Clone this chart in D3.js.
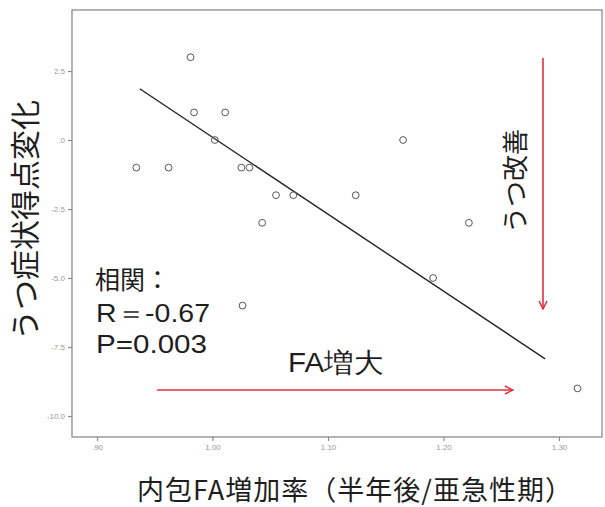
<!DOCTYPE html>
<html>
<head>
<meta charset="utf-8">
<script src="https://cdn.jsdelivr.net/npm/d3@7"></script>
<style>
  html, body { margin: 0; padding: 0; background: #fff; }
  svg { display: block; }
</style>
</head>
<body>
<svg id="chart" width="605" height="507"></svg>
<script>
// FA increase ratio (6 months / subacute) vs. change in depression score
const faRatio = [0.981, 0.984, 1.011, 1.002, 0.934, 0.962, 1.025, 1.032, 1.055, 1.070,
                 1.124, 1.043, 1.165, 1.191, 1.222, 1.026, 1.316];
const scoreChange = [3, 1, 1, 0, -1, -1, -1, -1, -2, -2,
                     -2, -3, 0, -5, -3, -6, -9];

// fitted regression line (intercept, slope) and its drawn x-span
const fitCoef = [27.98, -27.88];
const fitSpan = [0.937, 1.288];

const xTicks = [0.90, 1.00, 1.10, 1.20, 1.30];
const xTickLabels = [".90", "1.00", "1.10", "1.20", "1.30"];
const yTicks = [2.5, 0, -2.5, -5.0, -7.5, -10.0];
const yTickLabels = ["2.5", ".0", "-2.5", "-5.0", "-7.5", "-10.0"];

const statLines = ["R＝-0.67", "P=0.003"];

const svg = d3.select("#chart");
const frame = { left: 72, right: 602, top: 10, bottom: 437 };

const x = d3.scaleLinear().domain([0.90, 1.30]).range([97, 559]);
const y = d3.scaleLinear().domain([2.5, -10.0]).range([71, 416]);

const grey = "#8a8a8a";
const red = "#e0303c";
const ink = "#1e1e1e";

// plot frame
svg.append("rect")
  .attr("x", frame.left).attr("y", frame.top)
  .attr("width", frame.right - frame.left).attr("height", frame.bottom - frame.top)
  .attr("fill", "none").attr("stroke", grey).attr("stroke-width", 1.3);

// axes
const xAxis = d3.axisBottom(x).tickValues(xTicks).tickSize(4).tickPadding(3)
  .tickFormat((d, i) => xTickLabels[i]);
const gx = svg.append("g").attr("transform", `translate(0,${frame.bottom})`).call(xAxis);
gx.select(".domain").remove();

const yAxis = d3.axisLeft(y).tickValues(yTicks).tickSize(4).tickPadding(3)
  .tickFormat((d, i) => yTickLabels[i]);
const gy = svg.append("g").attr("transform", `translate(${frame.left},0)`).call(yAxis);
gy.select(".domain").remove();

svg.selectAll(".tick line").attr("stroke", grey).attr("stroke-width", 1.2);
svg.selectAll(".tick text")
  .attr("fill", "#999").attr("font-size", 8)
  .attr("font-family", "Liberation Sans, Arial, sans-serif");

// regression line
svg.append("line")
  .attr("x1", x(fitSpan[0])).attr("y1", y(fitCoef[0] + fitCoef[1] * fitSpan[0]))
  .attr("x2", x(fitSpan[1])).attr("y2", y(fitCoef[0] + fitCoef[1] * fitSpan[1]))
  .attr("stroke", "#222").attr("stroke-width", 1.4);

// data points
svg.append("g").selectAll("circle")
  .data(faRatio.map((v, i) => [v, scoreChange[i]]))
  .join("circle")
  .attr("cx", d => x(d[0])).attr("cy", d => y(d[1]))
  .attr("r", 3.4)
  .attr("fill", "none").attr("stroke", "#555").attr("stroke-width", 1);

// red arrows
const defs = svg.append("defs");
defs.append("marker")
  .attr("id", "arrowHead").attr("viewBox", "0 0 10 10")
  .attr("refX", 9).attr("refY", 5)
  .attr("markerWidth", 10).attr("markerHeight", 10)
  .attr("markerUnits", "userSpaceOnUse").attr("orient", "auto")
  .append("path").attr("d", "M1,1 L9,5 L1,9")
  .attr("fill", "none").attr("stroke", red).attr("stroke-width", 1.5);

svg.append("line")
  .attr("x1", 157).attr("y1", 390).attr("x2", 513).attr("y2", 390)
  .attr("stroke", red).attr("stroke-width", 1.6).attr("marker-end", "url(#arrowHead)");
svg.append("line")
  .attr("x1", 543).attr("y1", 58).attr("x2", 543).attr("y2", 309)
  .attr("stroke", red).attr("stroke-width", 1.6).attr("marker-end", "url(#arrowHead)");

const jp = "'Noto Sans CJK JP', 'Noto Sans', sans-serif";
const latin = "'Liberation Sans', Arial, sans-serif";

// correlation statistics
svg.append("text")
  .attr("x", 95).attr("y", 289)
  .attr("font-family", jp).attr("font-size", 25).attr("fill", ink)
  .text("相関：");

svg.append("g").selectAll("text")
  .data(statLines).join("text")
  .attr("x", 96).attr("y", (d, i) => 322 + i * 31)
  .attr("font-family", latin).attr("font-size", 26).attr("fill", ink)
  .attr("textLength", (d, i) => [114, 111][i])
  .attr("lengthAdjust", "spacingAndGlyphs")
  .text(d => d);

// annotations
svg.append("text")
  .attr("x", 288).attr("y", 372)
  .attr("font-family", latin).attr("font-size", 27).attr("fill", ink)
  .attr("textLength", 95).attr("lengthAdjust", "spacingAndGlyphs")
  .text("FA増大");

svg.append("text")
  .attr("transform", "translate(525,181) rotate(-90)")
  .attr("text-anchor", "middle")
  .attr("font-family", jp).attr("font-size", 26).attr("fill", ink)
  .text("うつ改善");

// axis titles
svg.append("text")
  .attr("x", 137).attr("y", 500)
  .attr("font-family", jp).attr("font-size", 27).attr("fill", ink)
  .attr("textLength", 435).attr("lengthAdjust", "spacing")
  .text("内包FA増加率（半年後/亜急性期）");

svg.append("text")
  .attr("transform", "translate(36,220) rotate(-90)")
  .attr("text-anchor", "middle")
  .attr("font-family", jp).attr("font-size", 30).attr("fill", ink)
  .text("うつ症状得点変化");
</script>
</body>
</html>
